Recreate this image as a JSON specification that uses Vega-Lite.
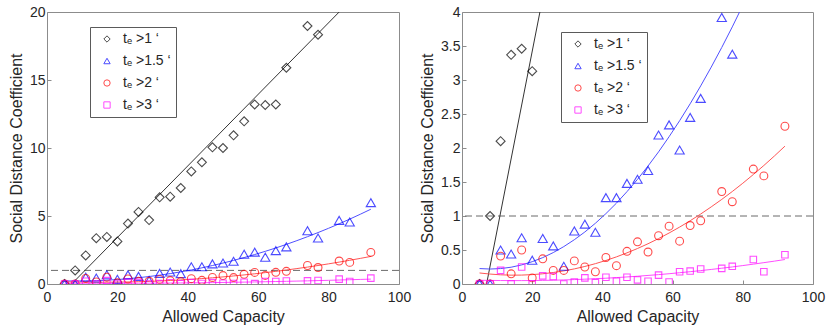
{
  "$schema": "https://vega.github.io/schema/vega-lite/v6.json",
  "padding": {"left": 7, "top": 4, "right": 2, "bottom": 2},
  "config": {
    "font": "Liberation Sans",
    "view": {"stroke": "#8c8c8c", "strokeWidth": 1},
    "axis": {"grid": false, "domain": false, "tickColor": "#8c8c8c", "tickSize": -4, "labelFontSize": 14, "labelColor": "#262626", "titleFontSize": 16, "titleFontWeight": "normal", "titleColor": "#262626", "labelPadding": 6, "titlePadding": 5, "labelFlush": false, "labelOverlap": false},
    "axisX": {"labelPadding": 10, "titlePadding": 4},
    "legend": {"strokeColor": "#5a5a5a", "fillColor": "white", "padding": 5, "symbolOffset": 5, "labelFontSize": 14, "labelColor": "#262626", "symbolStrokeWidth": 1, "symbolSize": 40, "rowPadding": 8, "labelOffset": 9}
  },
  "datasets": {
    "pts": [
      {"g": "tₑ >1 ‘", "x": 5, "y": 0}, {"g": "tₑ >1 ‘", "x": 8, "y": 1.0}, {"g": "tₑ >1 ‘", "x": 11, "y": 2.1}, {"g": "tₑ >1 ‘", "x": 14, "y": 3.37}, {"g": "tₑ >1 ‘", "x": 17, "y": 3.46}, {"g": "tₑ >1 ‘", "x": 20, "y": 3.13}, {"g": "tₑ >1 ‘", "x": 23, "y": 4.44}, {"g": "tₑ >1 ‘", "x": 26, "y": 5.3}, {"g": "tₑ >1 ‘", "x": 29, "y": 4.7}, {"g": "tₑ >1 ‘", "x": 32, "y": 6.37}, {"g": "tₑ >1 ‘", "x": 35, "y": 6.42}, {"g": "tₑ >1 ‘", "x": 38, "y": 7.06}, {"g": "tₑ >1 ‘", "x": 41, "y": 8.28}, {"g": "tₑ >1 ‘", "x": 44, "y": 8.95}, {"g": "tₑ >1 ‘", "x": 47, "y": 10.05}, {"g": "tₑ >1 ‘", "x": 50, "y": 10.0}, {"g": "tₑ >1 ‘", "x": 53, "y": 10.93}, {"g": "tₑ >1 ‘", "x": 56, "y": 11.96}, {"g": "tₑ >1 ‘", "x": 59, "y": 13.2}, {"g": "tₑ >1 ‘", "x": 62, "y": 13.16}, {"g": "tₑ >1 ‘", "x": 65, "y": 13.2}, {"g": "tₑ >1 ‘", "x": 68, "y": 15.9}, {"g": "tₑ >1 ‘", "x": 74, "y": 18.97}, {"g": "tₑ >1 ‘", "x": 77, "y": 18.33},
      {"g": "tₑ >1.5 ‘", "x": 5, "y": 0}, {"g": "tₑ >1.5 ‘", "x": 8, "y": 0}, {"g": "tₑ >1.5 ‘", "x": 11, "y": 0.5}, {"g": "tₑ >1.5 ‘", "x": 14, "y": 0.44}, {"g": "tₑ >1.5 ‘", "x": 17, "y": 0.68}, {"g": "tₑ >1.5 ‘", "x": 20, "y": 0.35}, {"g": "tₑ >1.5 ‘", "x": 23, "y": 0.67}, {"g": "tₑ >1.5 ‘", "x": 26, "y": 0.56}, {"g": "tₑ >1.5 ‘", "x": 29, "y": 0.26}, {"g": "tₑ >1.5 ‘", "x": 32, "y": 0.78}, {"g": "tₑ >1.5 ‘", "x": 35, "y": 0.88}, {"g": "tₑ >1.5 ‘", "x": 38, "y": 0.76}, {"g": "tₑ >1.5 ‘", "x": 41, "y": 1.27}, {"g": "tₑ >1.5 ‘", "x": 44, "y": 1.27}, {"g": "tₑ >1.5 ‘", "x": 47, "y": 1.48}, {"g": "tₑ >1.5 ‘", "x": 50, "y": 1.54}, {"g": "tₑ >1.5 ‘", "x": 53, "y": 1.67}, {"g": "tₑ >1.5 ‘", "x": 56, "y": 2.19}, {"g": "tₑ >1.5 ‘", "x": 59, "y": 2.34}, {"g": "tₑ >1.5 ‘", "x": 62, "y": 1.97}, {"g": "tₑ >1.5 ‘", "x": 65, "y": 2.45}, {"g": "tₑ >1.5 ‘", "x": 68, "y": 2.73}, {"g": "tₑ >1.5 ‘", "x": 74, "y": 3.92}, {"g": "tₑ >1.5 ‘", "x": 77, "y": 3.38}, {"g": "tₑ >1.5 ‘", "x": 83, "y": 4.68}, {"g": "tₑ >1.5 ‘", "x": 86, "y": 4.56}, {"g": "tₑ >1.5 ‘", "x": 92, "y": 5.98},
      {"g": "tₑ >2 ‘", "x": 5, "y": 0}, {"g": "tₑ >2 ‘", "x": 8, "y": 0}, {"g": "tₑ >2 ‘", "x": 11, "y": 0.41}, {"g": "tₑ >2 ‘", "x": 14, "y": 0.15}, {"g": "tₑ >2 ‘", "x": 17, "y": 0.5}, {"g": "tₑ >2 ‘", "x": 20, "y": 0.09}, {"g": "tₑ >2 ‘", "x": 23, "y": 0.37}, {"g": "tₑ >2 ‘", "x": 26, "y": 0.2}, {"g": "tₑ >2 ‘", "x": 29, "y": 0.2}, {"g": "tₑ >2 ‘", "x": 32, "y": 0.34}, {"g": "tₑ >2 ‘", "x": 35, "y": 0.25}, {"g": "tₑ >2 ‘", "x": 38, "y": 0.18}, {"g": "tₑ >2 ‘", "x": 41, "y": 0.39}, {"g": "tₑ >2 ‘", "x": 44, "y": 0.27}, {"g": "tₑ >2 ‘", "x": 47, "y": 0.48}, {"g": "tₑ >2 ‘", "x": 50, "y": 0.62}, {"g": "tₑ >2 ‘", "x": 53, "y": 0.47}, {"g": "tₑ >2 ‘", "x": 56, "y": 0.71}, {"g": "tₑ >2 ‘", "x": 59, "y": 0.85}, {"g": "tₑ >2 ‘", "x": 62, "y": 0.63}, {"g": "tₑ >2 ‘", "x": 65, "y": 0.86}, {"g": "tₑ >2 ‘", "x": 68, "y": 0.93}, {"g": "tₑ >2 ‘", "x": 74, "y": 1.36}, {"g": "tₑ >2 ‘", "x": 77, "y": 1.21}, {"g": "tₑ >2 ‘", "x": 83, "y": 1.69}, {"g": "tₑ >2 ‘", "x": 86, "y": 1.59}, {"g": "tₑ >2 ‘", "x": 92, "y": 2.32},
      {"g": "tₑ >3 ‘", "x": 5, "y": 0}, {"g": "tₑ >3 ‘", "x": 8, "y": 0}, {"g": "tₑ >3 ‘", "x": 11, "y": 0.2}, {"g": "tₑ >3 ‘", "x": 14, "y": 0}, {"g": "tₑ >3 ‘", "x": 17, "y": 0.25}, {"g": "tₑ >3 ‘", "x": 20, "y": 0}, {"g": "tₑ >3 ‘", "x": 23, "y": 0.12}, {"g": "tₑ >3 ‘", "x": 26, "y": 0.11}, {"g": "tₑ >3 ‘", "x": 29, "y": 0}, {"g": "tₑ >3 ‘", "x": 32, "y": 0.03}, {"g": "tₑ >3 ‘", "x": 35, "y": 0.09}, {"g": "tₑ >3 ‘", "x": 38, "y": 0.02}, {"g": "tₑ >3 ‘", "x": 41, "y": 0.1}, {"g": "tₑ >3 ‘", "x": 44, "y": 0.04}, {"g": "tₑ >3 ‘", "x": 47, "y": 0.1}, {"g": "tₑ >3 ‘", "x": 50, "y": 0.06}, {"g": "tₑ >3 ‘", "x": 53, "y": 0.04}, {"g": "tₑ >3 ‘", "x": 56, "y": 0.13}, {"g": "tₑ >3 ‘", "x": 59, "y": 0.03}, {"g": "tₑ >3 ‘", "x": 62, "y": 0.18}, {"g": "tₑ >3 ‘", "x": 65, "y": 0.19}, {"g": "tₑ >3 ‘", "x": 68, "y": 0.22}, {"g": "tₑ >3 ‘", "x": 74, "y": 0.23}, {"g": "tₑ >3 ‘", "x": 77, "y": 0.26}, {"g": "tₑ >3 ‘", "x": 83, "y": 0.36}, {"g": "tₑ >3 ‘", "x": 86, "y": 0.18}, {"g": "tₑ >3 ‘", "x": 92, "y": 0.43}
    ],
    "fits": [
      {"g": "k", "x": 7, "y": 0}, {"g": "k", "x": 83, "y": 20},
      {"g": "b", "x": 5, "y": 0.227}, {"g": "b", "x": 8, "y": 0.22}, {"g": "b", "x": 11, "y": 0.227}, {"g": "b", "x": 14, "y": 0.247}, {"g": "b", "x": 17, "y": 0.281}, {"g": "b", "x": 20, "y": 0.328}, {"g": "b", "x": 23, "y": 0.388}, {"g": "b", "x": 26, "y": 0.462}, {"g": "b", "x": 29, "y": 0.55}, {"g": "b", "x": 32, "y": 0.651}, {"g": "b", "x": 35, "y": 0.765}, {"g": "b", "x": 38, "y": 0.893}, {"g": "b", "x": 41, "y": 1.035}, {"g": "b", "x": 44, "y": 1.189}, {"g": "b", "x": 47, "y": 1.358}, {"g": "b", "x": 50, "y": 1.539}, {"g": "b", "x": 53, "y": 1.735}, {"g": "b", "x": 56, "y": 1.943}, {"g": "b", "x": 59, "y": 2.166}, {"g": "b", "x": 62, "y": 2.401}, {"g": "b", "x": 65, "y": 2.65}, {"g": "b", "x": 68, "y": 2.913}, {"g": "b", "x": 71, "y": 3.189}, {"g": "b", "x": 74, "y": 3.478}, {"g": "b", "x": 77, "y": 3.781}, {"g": "b", "x": 80, "y": 4.098}, {"g": "b", "x": 83, "y": 4.428}, {"g": "b", "x": 86, "y": 4.771}, {"g": "b", "x": 89, "y": 5.128}, {"g": "b", "x": 92, "y": 5.498},
      {"g": "r", "x": 5, "y": 0.162}, {"g": "r", "x": 8, "y": 0.146}, {"g": "r", "x": 11, "y": 0.135}, {"g": "r", "x": 14, "y": 0.13}, {"g": "r", "x": 17, "y": 0.131}, {"g": "r", "x": 20, "y": 0.138}, {"g": "r", "x": 23, "y": 0.15}, {"g": "r", "x": 26, "y": 0.169}, {"g": "r", "x": 29, "y": 0.193}, {"g": "r", "x": 32, "y": 0.222}, {"g": "r", "x": 35, "y": 0.258}, {"g": "r", "x": 38, "y": 0.299}, {"g": "r", "x": 41, "y": 0.346}, {"g": "r", "x": 44, "y": 0.399}, {"g": "r", "x": 47, "y": 0.458}, {"g": "r", "x": 50, "y": 0.522}, {"g": "r", "x": 53, "y": 0.592}, {"g": "r", "x": 56, "y": 0.668}, {"g": "r", "x": 59, "y": 0.75}, {"g": "r", "x": 62, "y": 0.837}, {"g": "r", "x": 65, "y": 0.93}, {"g": "r", "x": 68, "y": 1.029}, {"g": "r", "x": 71, "y": 1.134}, {"g": "r", "x": 74, "y": 1.244}, {"g": "r", "x": 77, "y": 1.36}, {"g": "r", "x": 80, "y": 1.482}, {"g": "r", "x": 83, "y": 1.61}, {"g": "r", "x": 86, "y": 1.743}, {"g": "r", "x": 89, "y": 1.882}, {"g": "r", "x": 92, "y": 2.027},
      {"g": "m", "x": 5, "y": 0.055}, {"g": "m", "x": 8, "y": 0.053}, {"g": "m", "x": 11, "y": 0.051}, {"g": "m", "x": 14, "y": 0.05}, {"g": "m", "x": 17, "y": 0.05}, {"g": "m", "x": 20, "y": 0.051}, {"g": "m", "x": 23, "y": 0.053}, {"g": "m", "x": 26, "y": 0.056}, {"g": "m", "x": 29, "y": 0.06}, {"g": "m", "x": 32, "y": 0.065}, {"g": "m", "x": 35, "y": 0.071}, {"g": "m", "x": 38, "y": 0.078}, {"g": "m", "x": 41, "y": 0.085}, {"g": "m", "x": 44, "y": 0.094}, {"g": "m", "x": 47, "y": 0.104}, {"g": "m", "x": 50, "y": 0.114}, {"g": "m", "x": 53, "y": 0.126}, {"g": "m", "x": 56, "y": 0.138}, {"g": "m", "x": 59, "y": 0.151}, {"g": "m", "x": 62, "y": 0.166}, {"g": "m", "x": 65, "y": 0.181}, {"g": "m", "x": 68, "y": 0.197}, {"g": "m", "x": 71, "y": 0.214}, {"g": "m", "x": 74, "y": 0.232}, {"g": "m", "x": 77, "y": 0.251}, {"g": "m", "x": 80, "y": 0.271}, {"g": "m", "x": 83, "y": 0.292}, {"g": "m", "x": 86, "y": 0.314}, {"g": "m", "x": 89, "y": 0.336}, {"g": "m", "x": 92, "y": 0.36}
    ]
  },
  "spacing": 7,
  "resolve": {"scale": {"x": "independent", "y": "independent", "color": "independent", "shape": "independent"}, "legend": {"color": "independent", "shape": "independent"}},
  "hconcat": [
    {
      "width": 352, "height": 272,
      "encoding": {
        "x": {"field": "x", "type": "quantitative", "title": "Allowed Capacity", "scale": {"domain": [0, 100], "nice": false}, "axis": {"values": [0, 20, 40, 60, 80, 100]}},
        "y": {"field": "y", "type": "quantitative", "title": "Social Distance Coefficient", "scale": {"domain": [0, 20], "nice": false}, "axis": {"values": [0, 5, 10, 15, 20], "format": "~g"}},
        "color": {"field": "g", "type": "nominal", "scale": {"domain": ["tₑ >1 ‘", "tₑ >1.5 ‘", "tₑ >2 ‘", "tₑ >3 ‘"], "range": ["#000000", "#0000ff", "#ff0000", "#ff00ff"]}, "legend": {"title": null, "orient": "none", "legendX": 43, "legendY": 15}},
        "shape": {"field": "g", "type": "nominal", "scale": {"domain": ["tₑ >1 ‘", "tₑ >1.5 ‘", "tₑ >2 ‘", "tₑ >3 ‘"], "range": ["diamond", "triangle-up", "circle", "square"]}, "legend": {"title": null, "orient": "none", "legendX": 43, "legendY": 15}}
      },
      "layer": [
        {
          "data": {"values": [{"ref": 1}]},
          "mark": {"type": "rule", "strokeDash": [7, 4], "color": "#6b6b6b", "strokeWidth": 1},
          "encoding": {"x": null, "color": null, "shape": null, "y": {"field": "ref", "type": "quantitative"}}
        },
        {"data": {"name": "fits"}, "transform": [{"filter": "datum.g == 'k'"}], "mark": {"type": "line", "strokeWidth": 1, "clip": true, "color": "#333333"}, "encoding": {"color": null, "shape": null}},
        {"data": {"name": "fits"}, "transform": [{"filter": "datum.g == 'b'"}], "mark": {"type": "line", "strokeWidth": 1, "clip": true, "color": "#5050ff"}, "encoding": {"color": null, "shape": null}},
        {"data": {"name": "fits"}, "transform": [{"filter": "datum.g == 'r'"}], "mark": {"type": "line", "strokeWidth": 1, "clip": true, "color": "#ff5555"}, "encoding": {"color": null, "shape": null}},
        {"data": {"name": "fits"}, "transform": [{"filter": "datum.g == 'm'"}], "mark": {"type": "line", "strokeWidth": 1, "clip": true, "color": "#ff4dff"}, "encoding": {"color": null, "shape": null}},
        {"data": {"name": "pts"}, "transform": [{"filter": {"field": "g", "equal": "tₑ >1 ‘"}}], "mark": {"type": "point", "filled": false, "strokeWidth": 1.1, "size": 80, "clip": true}},
        {"data": {"name": "pts"}, "transform": [{"filter": {"field": "g", "equal": "tₑ >1.5 ‘"}}], "mark": {"type": "point", "filled": false, "strokeWidth": 1.1, "size": 85, "clip": true}},
        {"data": {"name": "pts"}, "transform": [{"filter": {"field": "g", "equal": "tₑ >2 ‘"}}], "mark": {"type": "point", "filled": false, "strokeWidth": 1.1, "size": 62, "clip": true}},
        {"data": {"name": "pts"}, "transform": [{"filter": {"field": "g", "equal": "tₑ >3 ‘"}}], "mark": {"type": "point", "filled": false, "strokeWidth": 1.1, "size": 42, "clip": true}},
        {
          "data": {"values": [{}]},
          "mark": {"type": "text", "text": "A", "fontSize": 17, "fontWeight": "bold", "align": "left", "baseline": "middle", "color": "#000000"},
          "encoding": {"color": null, "shape": null, "x": {"datum": 3.4, "type": "quantitative"}, "y": {"datum": 18.55, "type": "quantitative"}}
        }
      ]
    },
    {
      "width": 351, "height": 272,
      "encoding": {
        "x": {"field": "x", "type": "quantitative", "title": "Allowed Capacity", "scale": {"domain": [0, 100], "nice": false}, "axis": {"values": [0, 20, 40, 60, 80, 100]}},
        "y": {"field": "y", "type": "quantitative", "title": "Social Distance Coefficient", "scale": {"domain": [0, 4], "nice": false}, "axis": {"values": [0, 0.5, 1, 1.5, 2, 2.5, 3, 3.5, 4], "format": "~g"}},
        "color": {"field": "g", "type": "nominal", "scale": {"domain": ["tₑ >1 ‘", "tₑ >1.5 ‘", "tₑ >2 ‘", "tₑ >3 ‘"], "range": ["#000000", "#0000ff", "#ff0000", "#ff00ff"]}, "legend": {"title": null, "orient": "none", "legendX": 99, "legendY": 20}},
        "shape": {"field": "g", "type": "nominal", "scale": {"domain": ["tₑ >1 ‘", "tₑ >1.5 ‘", "tₑ >2 ‘", "tₑ >3 ‘"], "range": ["diamond", "triangle-up", "circle", "square"]}, "legend": {"title": null, "orient": "none", "legendX": 99, "legendY": 20}}
      },
      "layer": [
        {
          "data": {"values": [{"ref": 1}]},
          "mark": {"type": "rule", "strokeDash": [7, 4], "color": "#6b6b6b", "strokeWidth": 1},
          "encoding": {"x": null, "color": null, "shape": null, "y": {"field": "ref", "type": "quantitative"}}
        },
        {"data": {"name": "fits"}, "transform": [{"filter": "datum.g == 'k'"}], "mark": {"type": "line", "strokeWidth": 1, "clip": true, "color": "#333333"}, "encoding": {"color": null, "shape": null}},
        {"data": {"name": "fits"}, "transform": [{"filter": "datum.g == 'b'"}], "mark": {"type": "line", "strokeWidth": 1, "clip": true, "color": "#5050ff"}, "encoding": {"color": null, "shape": null}},
        {"data": {"name": "fits"}, "transform": [{"filter": "datum.g == 'r'"}], "mark": {"type": "line", "strokeWidth": 1, "clip": true, "color": "#ff5555"}, "encoding": {"color": null, "shape": null}},
        {"data": {"name": "fits"}, "transform": [{"filter": "datum.g == 'm'"}], "mark": {"type": "line", "strokeWidth": 1, "clip": true, "color": "#ff4dff"}, "encoding": {"color": null, "shape": null}},
        {"data": {"name": "pts"}, "transform": [{"filter": {"field": "g", "equal": "tₑ >1 ‘"}}], "mark": {"type": "point", "filled": false, "strokeWidth": 1.1, "size": 80, "clip": true}},
        {"data": {"name": "pts"}, "transform": [{"filter": {"field": "g", "equal": "tₑ >1.5 ‘"}}], "mark": {"type": "point", "filled": false, "strokeWidth": 1.1, "size": 85, "clip": true}},
        {"data": {"name": "pts"}, "transform": [{"filter": {"field": "g", "equal": "tₑ >2 ‘"}}], "mark": {"type": "point", "filled": false, "strokeWidth": 1.1, "size": 62, "clip": true}},
        {"data": {"name": "pts"}, "transform": [{"filter": {"field": "g", "equal": "tₑ >3 ‘"}}], "mark": {"type": "point", "filled": false, "strokeWidth": 1.1, "size": 42, "clip": true}},
        {
          "data": {"values": [{}]},
          "mark": {"type": "text", "text": "B", "fontSize": 17, "fontWeight": "bold", "align": "left", "baseline": "middle", "color": "#000000"},
          "encoding": {"color": null, "shape": null, "x": {"datum": 3.7, "type": "quantitative"}, "y": {"datum": 3.72, "type": "quantitative"}}
        }
      ]
    }
  ]
}
